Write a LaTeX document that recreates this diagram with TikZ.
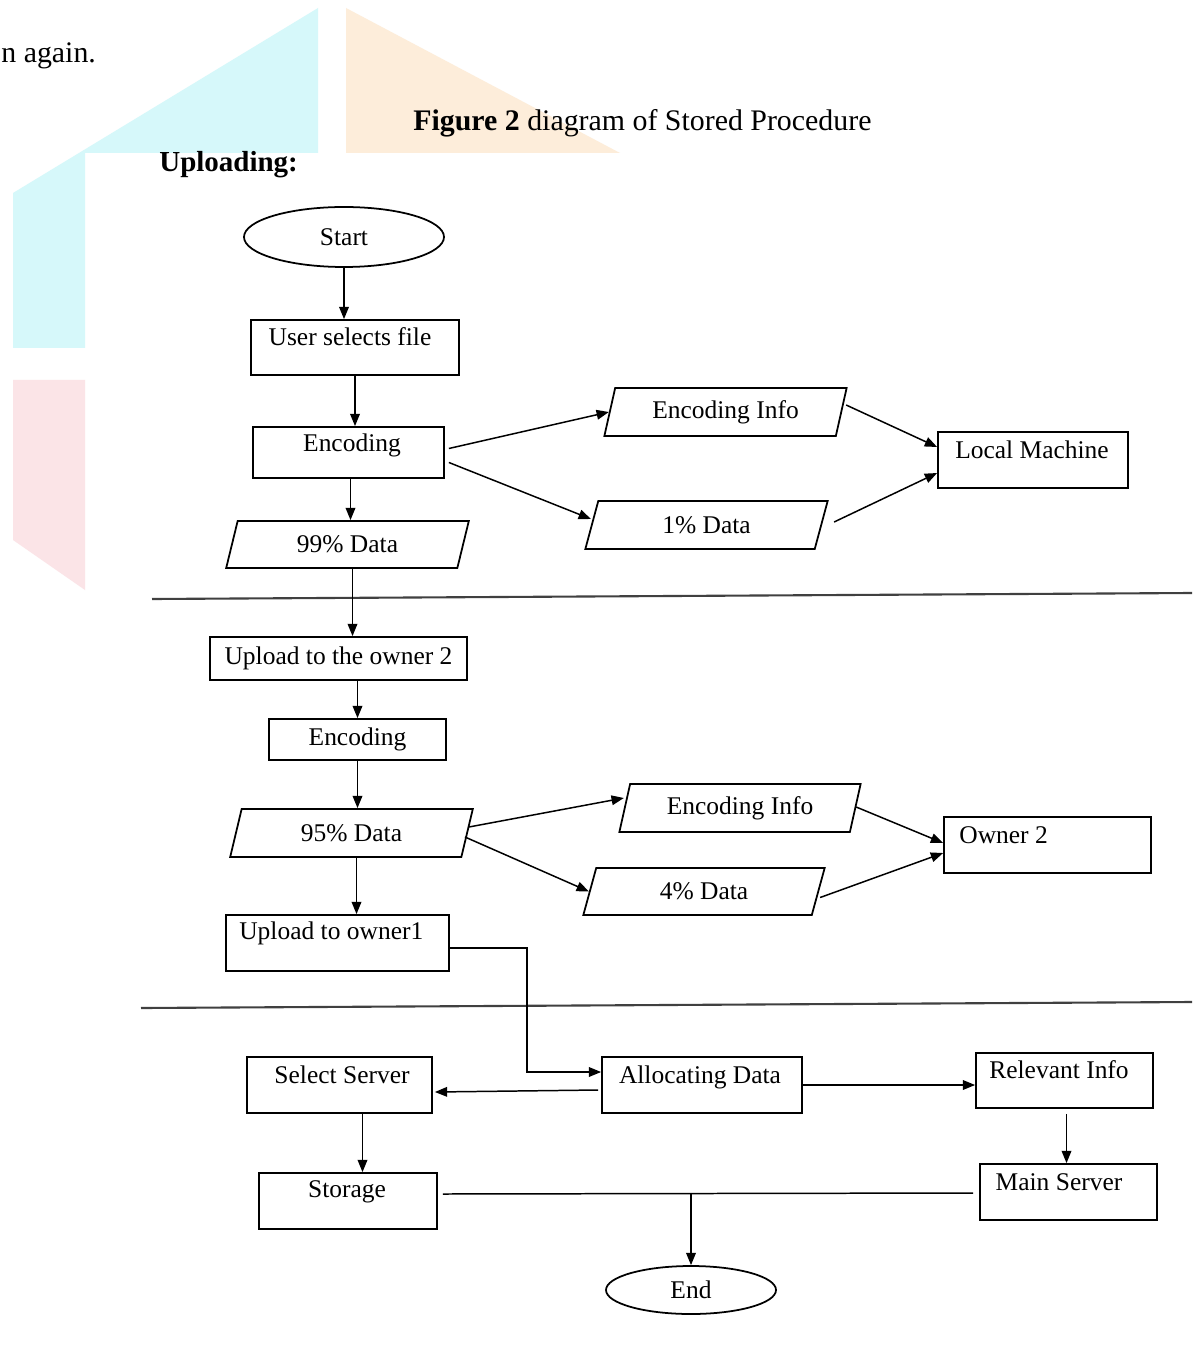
\documentclass[tikz,border=0pt]{standalone}
\usepackage{fontspec}
\setmainfont{Liberation Serif}
\usetikzlibrary{shapes.geometric,arrows.meta,calc}
\definecolor{wmcyan}{RGB}{214,248,250}
\definecolor{wmpink}{RGB}{251,228,231}
\definecolor{wmorange}{RGB}{253,237,218}
\begin{document}
\begin{tikzpicture}[x=0.02cm,y=-0.02cm,
  every node/.style={font=\fontsize{14.5}{16}\selectfont},
  box/.style 2 args={draw, line width=1pt, rectangle, inner sep=0pt,
    minimum width=#1*0.02cm, minimum height=#2*0.02cm},
  para/.style 2 args={draw, line width=1pt, trapezium, trapezium left angle=73,
    trapezium right angle=107, trapezium stretches=true, inner sep=0pt,
    minimum width=#1*0.02cm, minimum height=#2*0.02cm},
  oval/.style 2 args={draw, ellipse, line width=1pt, inner sep=0pt,
    minimum width=#1*0.02cm, minimum height=#2*0.02cm},
  lbl/.style={inner sep=0pt},
  arr/.style={line width=0.85pt, -{Triangle[length=7pt,width=5.5pt]}},
  ln/.style={line width=0.85pt},
  sepline/.style={line width=1.2pt, black!75},
  head/.style={inner sep=0pt, font=\fontsize{17}{20}\selectfont},
]
\useasboundingbox (0,0) rectangle (1192,1364);
\fill[white] (0,0) rectangle (1192,1364);
% watermark remnants
\fill[wmcyan] (13,193) -- (318,8) -- (318,153) -- (85,153) -- (85,348) -- (13,348) -- cycle;
\fill[wmpink] (13,380) -- (85,380) -- (85,590) -- (13,540) -- cycle;
\fill[wmorange] (346,8) -- (620,153) -- (346,153) -- cycle;

% header texts
\node[head, anchor=base west] (again) at (1,63) {n again.};
\node[head, anchor=base west] (caption) at (413,131) {\textbf{Figure 2} diagram of Stored Procedure};
\node[inner sep=0pt, anchor=base west, font=\fontsize{16.5}{20}\selectfont\bfseries] (upl) at (159,172) {Uploading:};

% nodes
\node[oval={200}{60}] (start) at (344,237) {Start};
\node[box={208}{55}] (user) at (355,347.5) {};
\node[lbl] (tuser) at (350,337) {User selects file};
\node[box={191}{51}] (enc1) at (348.5,452.5) {};
\node[lbl] (tenc1) at (352,445) {Encoding};
\node[para={243}{47}] (d99) at (347.5,544.5) {99\% Data};
\node[para={243}{48}] (einfo1) at (725.5,412) {Encoding Info};
\node[para={243}{48}] (d1) at (706.5,525) {1\% Data};
\node[box={190}{56}] (local) at (1033,460) {};
\node[lbl] (tlocal) at (1032,450) {Local Machine};

\node[box={257}{43}] (up2) at (338.5,658.5) {Upload to the owner 2};
\node[box={177}{41}] (enc2) at (357.5,739.5) {Encoding};
\node[para={243}{48}] (d95) at (351.5,833) {95\% Data};
\node[para={242}{48}] (einfo2) at (740,808) {Encoding Info};
\node[para={242}{47}] (d4) at (704,891.5) {4\% Data};
\node[box={207}{56}] (owner2) at (1047.5,845) {};
\node[lbl, anchor=west] (towner2) at (959,835) {Owner 2};
\node[box={223}{56}] (up1) at (337.5,943) {};
\node[lbl, anchor=west] (tup1) at (239,933) {Upload to owner1};

\node[box={200}{56}] (alloc) at (702,1085) {};
\node[lbl] (talloc) at (700,1077) {Allocating Data};
\node[box={185}{56}] (select) at (339.5,1085) {};
\node[lbl] (tselect) at (342,1075) {Select Server};
\node[box={177}{55}] (relev) at (1064.5,1080.5) {};
\node[lbl] (trelev) at (1059,1070) {Relevant Info};
\node[box={177}{56}] (mainsrv) at (1068.5,1192) {};
\node[lbl] (tmain) at (1059,1182) {Main Server};
\node[box={178}{56}] (storage) at (348,1201) {};
\node[lbl] (tstorage) at (347,1192) {Storage};
\node[oval={170}{48}] (endn) at (691,1290) {End};

% separators
\coordinate (s1a) at (152,599); \coordinate (s1b) at (1192,593);
\draw[sepline] (s1a) -- (s1b);
\coordinate (s2a) at (141,1008); \coordinate (s2b) at (1192,1002);
\draw[sepline] (s2a) -- (s2b);

% connectors, section 1
\draw[arr] (start.south) -- (start.south |- user.north);
\draw[arr] (user.south) -- (user.south |- enc1.north);
\coordinate (a0) at ($(enc1.south)+(2,0)$);
\draw[arr] (a0) -- (a0 |- d99.north);
\draw[arr] ($(enc1.east)+(4,-4)$) -- (einfo1.west);
\draw[arr] ($(enc1.east)+(4,10)$) -- ($(d1.west)+(0,-6)$);
\draw[arr] ($(einfo1.east)+(4,-7)$) -- ($(local.west)+(0,-13)$);
\draw[arr] ($(d1.east)+(12,-3)$) -- ($(local.west)+(0,13)$);
\coordinate (a1) at ($(d99.south)+(5,0)$);
\draw[arr] (a1) -- (a1 |- up2.north);

% section 2
\draw[arr] (enc2.north |- up2.south) -- (enc2.north);
\draw[arr] (enc2.south) -- (enc2.south |- d95.north);
\draw[arr] ($(d95.east)+(1,-6)$) -- ($(einfo2.west)+(0,-10)$);
\draw[arr] ($(d95.east)+(-3,4)$) -- (d4.west);
\draw[arr] ($(einfo2.east)+(0,-1)$) -- ($(owner2.west)+(0,-2)$);
\draw[arr] ($(d4.east)+(1,6)$) -- ($(owner2.west)+(0,8)$);
\coordinate (a2) at ($(d95.south)+(5,0)$);
\draw[arr] (a2) -- (a2 |- up1.north);

% section 3
\draw[arr] ($(up1.east)+(0,5)$) -- ++(77,0) |- ($(alloc.west)+(0,-13)$);
\draw[arr] ($(alloc.west)+(-3,5)$) -- ($(select.east)+(2,7)$);
\draw[arr] (alloc.east) -- (alloc.east -| relev.west);
\coordinate (a3) at ($(relev.south)+(2,5)$);
\draw[arr] (a3) -- (a3 |- mainsrv.north);
\coordinate (a4) at ($(select.south)+(23,0)$);
\draw[arr] (a4) -- (a4 |- storage.north);
\coordinate (sL) at ($(storage.east)+(5,-7)$);
\coordinate (sR) at ($(mainsrv.west)+(-6,1)$);
\draw[ln] (sL) -- (sR);
\draw[arr] (endn.north |- sL) -- (endn.north);
\end{tikzpicture}
\end{document}
